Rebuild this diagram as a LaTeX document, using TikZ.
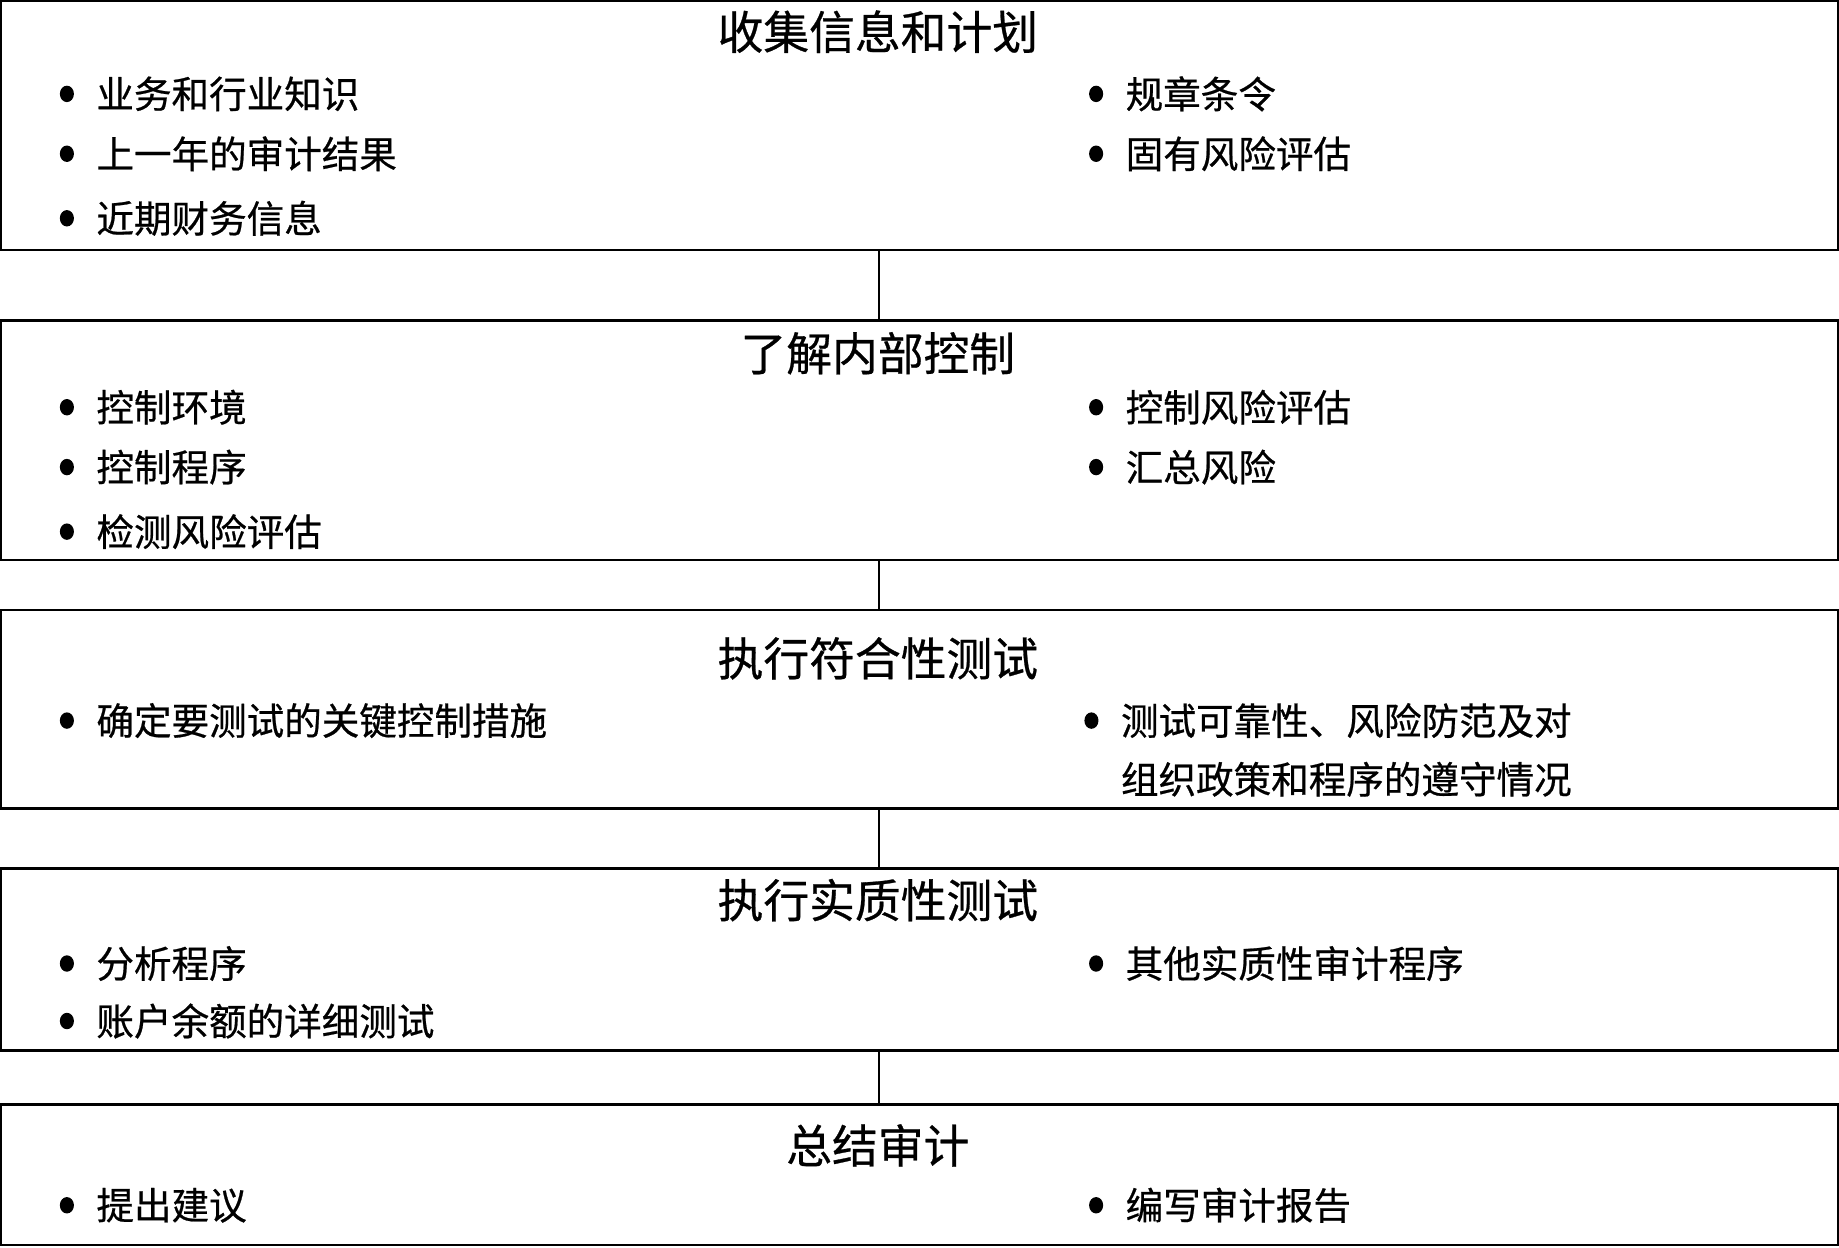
\documentclass[tikz,border=0pt]{standalone}
\usepackage{fontspec}
\usetikzlibrary{shapes.geometric}
\newfontfamily\cjk[FakeBold=0.6]{Noto Sans CJK SC}
\begin{document}
\begin{tikzpicture}[x=1pt,y=-1pt,
  box/.style={draw=black, line width=2pt, minimum width=1565pt, inner sep=0pt},
  ttl/.style={font=\cjk\fontsize{39}{46}\selectfont, inner sep=0pt},
  itm/.style={font=\cjk\fontsize{32}{50}\selectfont, inner sep=0pt, anchor=west, align=left},
  bul/.style={ellipse, fill=black, minimum width=12pt, minimum height=14pt, inner sep=0pt},
  link/.style={draw=black, line width=1pt}]
\useasboundingbox (0,0) rectangle (1567,1063);
% boxes
\node[box, minimum height=212pt] (b1) at (783.5,107) {};
\node[box, minimum height=204pt] (b2) at (783.5,375) {};
\node[box, minimum height=169pt] (b3) at (783.5,604.5) {};
\node[box, minimum height=155pt] (b4) at (783.5,817.5) {};
\node[box, minimum height=120pt] (b5) at (783.5,1001) {};
% connectors
\draw[link] (b1.south -| 749,0) -- (b2.north -| 749,0);
\draw[link] (b2.south -| 749,0) -- (b3.north -| 749,0);
\draw[link] (b3.south -| 749,0) -- (b4.north -| 749,0);
\draw[link] (b4.south -| 749,0) -- (b5.north -| 749,0);
% box 1
\node[ttl] (t1) at (748,27) {收集信息和计划};
\node[bul] (d11) at (57,80) {}; \node[itm] (i11) at (82,80) {业务和行业知识};
\node[bul] (d12) at (57,131) {}; \node[itm] (i12) at (82,131) {上一年的审计结果};
\node[bul] (d13) at (57,186) {}; \node[itm] (i13) at (82,186) {近期财务信息};
\node[bul] (d14) at (934,80) {}; \node[itm] (i14) at (959,80) {规章条令};
\node[bul] (d15) at (934,131) {}; \node[itm] (i15) at (959,131) {固有风险评估};
% box 2
\node[ttl] (t2) at (748,301) {了解内部控制};
\node[bul] (d21) at (57,347) {}; \node[itm] (i21) at (82,347) {控制环境};
\node[bul] (d22) at (57,398) {}; \node[itm] (i22) at (82,398) {控制程序};
\node[bul] (d23) at (57,453) {}; \node[itm] (i23) at (82,453) {检测风险评估};
\node[bul] (d24) at (934,347) {}; \node[itm] (i24) at (959,347) {控制风险评估};
\node[bul] (d25) at (934,398) {}; \node[itm] (i25) at (959,398) {汇总风险};
% box 3
\node[ttl] (t3) at (748,561) {执行符合性测试};
\node[bul] (d31) at (57,614) {}; \node[itm] (i31) at (82,614) {确定要测试的关键控制措施};
\node[bul] (d32) at (930,614) {}; \node[itm] (i32) at (955,639) {测试可靠性、风险防范及对\\组织政策和程序的遵守情况};
% box 4
\node[ttl] (t4) at (748,767) {执行实质性测试};
\node[bul] (d41) at (57,821) {}; \node[itm] (i41) at (82,821) {分析程序};
\node[bul] (d42) at (57,870) {}; \node[itm] (i42) at (82,870) {账户余额的详细测试};
\node[bul] (d43) at (934,821) {}; \node[itm] (i43) at (959,821) {其他实质性审计程序};
% box 5
\node[ttl] (t5) at (748,976) {总结审计};
\node[bul] (d51) at (57,1027) {}; \node[itm] (i51) at (82,1027) {提出建议};
\node[bul] (d52) at (934,1027) {}; \node[itm] (i52) at (959,1027) {编写审计报告};
\end{tikzpicture}
\end{document}
